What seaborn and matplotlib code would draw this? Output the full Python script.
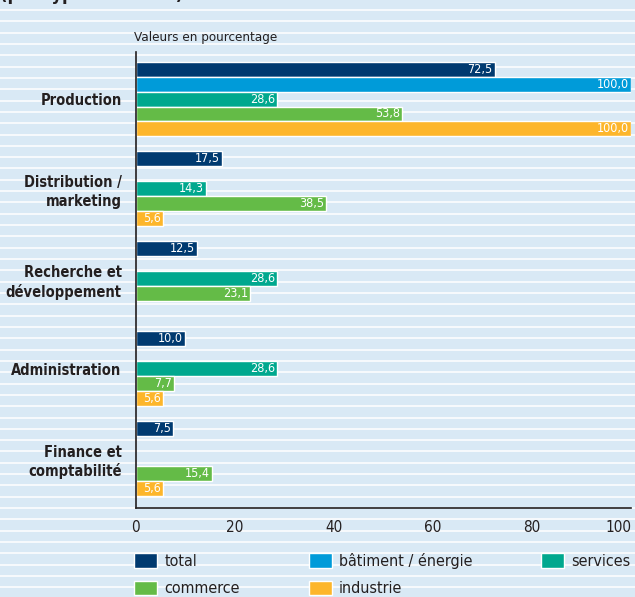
import numpy as np
import pandas as pd
import matplotlib
matplotlib.use("Agg")
import matplotlib.pyplot as plt
from matplotlib.lines import Line2D
import seaborn as sns

# data (percent)
categories = ["Production", "Distribution /\nmarketing", "Recherche et\ndéveloppement",
              "Administration", "Finance et\ncomptabilité"]
series = ["total", "bâtiment / énergie", "services", "commerce", "industrie"]
total = [72.5, 17.5, 12.5, 10.0, 7.5]
batiment = [100.0, np.nan, np.nan, np.nan, np.nan]
services = [28.6, 14.3, 28.6, 28.6, np.nan]
commerce = [53.8, 38.5, 23.1, 7.7, 15.4]
industrie = [100.0, 5.6, np.nan, 5.6, 5.6]
xticks = [0, 20, 40, 60, 80, 100]

colors = ["#003a70", "#009bd9", "#00a88e", "#64bb47", "#fdb62b"]
bg = "#d9e9f5"
dark = "#231f20"

df = pd.DataFrame({"categorie": categories * 5,
                   "serie": np.repeat(series, len(categories)),
                   "valeur": total + batiment + services + commerce + industrie}).dropna()

sns.set_style("white")
plt.rcParams["font.family"] = ["DejaVu Sans"]
plt.rcParams["font.stretch"] = "condensed"

W, H = 635, 597
fig = plt.figure(figsize=(W / 100, H / 100), dpi=100, facecolor=bg)

# background stripes
for k in range(53):
    y = 1 - (10 + 11.32 * k) / H
    fig.add_artist(Line2D([0, 1], [y, y], transform=fig.transFigure,
                          color="white", lw=1.1, zorder=-5))

ax = fig.add_axes([135.5 / W, 1 - 508 / H, (631 - 135.5) / W, (508 - 52) / H])
ax.patch.set_visible(False)

sns.barplot(data=df, x="valeur", y="categorie", hue="serie", order=categories,
            hue_order=series, palette=colors, orient="h", width=5 / 6, gap=0,
            saturation=1, edgecolor="white", linewidth=1, errorbar=None, ax=ax)

# value labels inside the bar ends
for p in ax.patches:
    w = p.get_width()
    if np.isnan(w) or w <= 0:
        continue
    ax.annotate(f"{w:.1f}".replace(".", ","), (w, p.get_y() + p.get_height() / 2),
                xytext=(-1.5, 0), textcoords="offset points", ha="right", va="center",
                color="white", fontsize=9)

ax.set_xlim(0, 100)
ax.set_ylim(4.55, -0.523)
ax.set_xticks(xticks)
ax.set_xticklabels([str(t) for t in xticks])
ax.set_xlabel("")
ax.set_ylabel("")
for s in ["top", "right"]:
    ax.spines[s].set_visible(False)
for s in ["left", "bottom"]:
    ax.spines[s].set_color(dark)
    ax.spines[s].set_linewidth(1.2)
ax.tick_params(axis="x", direction="in", length=6, width=1, color=dark,
               labelsize=11, labelcolor=dark, pad=9)
ax.tick_params(axis="y", length=0, pad=10, labelsize=10.5, labelcolor=dark)
for lab in ax.get_yticklabels():
    lab.set_fontweight("bold")
    lab.set_linespacing(1.3)
ax.get_xticklabels()[-1].set_horizontalalignment("right")

fig.text(134 / W, 1 - 37 / H, "Valeurs en pourcentage", fontsize=9.6,
         color=dark, va="center", ha="left")
fig.text(0 / W, 1 + 0.5 / H, "(par type d'activité)", fontsize=13, fontweight="bold",
         color=dark, va="baseline", ha="left")

handles, labels = ax.get_legend_handles_labels()
ax.get_legend().remove()
order = [0, 3, 1, 4, 2]
fig.legend([handles[i] for i in order], [labels[i] for i in order], ncol=3,
           loc="upper left", bbox_to_anchor=(134 / W, 1 - 553 / H), frameon=False,
           fontsize=11.5, handlelength=1.45, handleheight=1.0, handletextpad=0.45,
           columnspacing=4.3, labelspacing=0.72, borderpad=0, borderaxespad=0,
           labelcolor=dark)

fig.savefig("out.png", dpi=100, facecolor=bg)
